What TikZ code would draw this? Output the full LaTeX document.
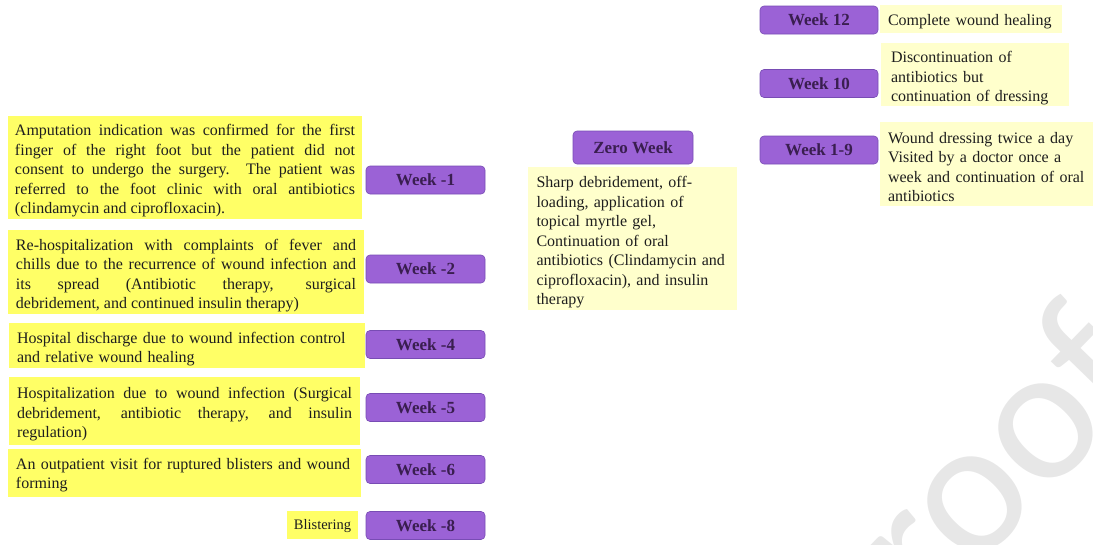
\documentclass[tikz,border=0pt]{standalone}
\usepackage{fontspec}
\setmainfont{Liberation Serif}
\newfontfamily\wmfont{Carlito}
\definecolor{wkpurple}{RGB}{155,98,214}
\definecolor{wkborder}{RGB}{120,76,180}
\definecolor{wktext}{RGB}{58,30,80}
\definecolor{ybright}{RGB}{255,255,102}
\definecolor{ypale}{RGB}{255,255,204}
\definecolor{bodytext}{RGB}{30,30,30}
\definecolor{wmgray}{RGB}{231,231,231}
\tikzset{
  wk/.style={rounded corners=4pt, fill=wkpurple, draw=wkborder, line width=0.6pt,
    minimum width=119pt, minimum height=28pt, inner sep=0pt, text=wktext,
    font=\bfseries\fontsize{17}{19}\selectfont},
  ytext/.style={inner ysep=0pt, text=bodytext, font=\fontsize{16}{19.5}\selectfont},
  ybox/.style={fill=ybright, inner sep=0pt},
  pbox/.style={fill=ypale, inner sep=0pt},
}
\begin{document}
\begin{tikzpicture}[x=1pt,y=-1pt]
\useasboundingbox (0,0) rectangle (1093,544);
\begin{scope}
\clip (0,0) rectangle (1093,544);
\node[rotate=45.8, anchor=base east, text=wmgray, inner sep=0pt,
  font=\wmfont\fontsize{193}{193}\selectfont] (wm) at (1156,384) {proof};
\end{scope}

% left column
\node[ybox, minimum width=354pt, minimum height=103pt] (b1) at (185,167.5) {};
\node[ytext, text width=340pt, align=justify] (t1) at ([yshift=-3.5pt]b1.center)
 {Amputation indication was confirmed for the first\linebreak finger of the right foot but the patient did not\linebreak consent to undergo the surgery. The patient was\linebreak referred to the foot clinic with oral antibiotics\linebreak (clindamycin and ciprofloxacin).};
\node[ybox, minimum width=356pt, minimum height=84pt] (b2) at (186,272) {};
\node[ytext, text width=340pt, align=justify] (t2) at ([yshift=-3.5pt]b2.center)
 {Re-hospitalization with complaints of fever and\linebreak chills due to the recurrence of wound infection and\linebreak its spread (Antibiotic therapy, surgical\linebreak debridement, and continued insulin therapy)};
\node[ybox, minimum width=356pt, minimum height=45pt] (b4) at (187,345.5) {};
\node[ytext, text width=340pt, align=left] (t4) at ([yshift=-3.5pt]b4.center)
 {Hospital discharge due to wound infection control\\ and relative wound healing};
\node[ybox, minimum width=351pt, minimum height=68pt] (b5) at (184.5,411) {};
\node[ytext, text width=335pt, align=justify] (t5) at ([yshift=-3.5pt]b5.center)
 {Hospitalization due to wound infection (Surgical\linebreak debridement, antibiotic therapy, and insulin\linebreak regulation)};
\node[ybox, minimum width=353pt, minimum height=48pt] (b6) at (184.5,473) {};
\node[ytext, text width=337pt, align=left] (t6) at ([yshift=-2pt]b6.center)
 {An outpatient visit for ruptured blisters and wound\\ forming};
\node[ybox, minimum width=71pt, minimum height=28pt] (b8) at (322.5,525) {};
\node[ytext, font=\fontsize{14.5}{17}\selectfont, inner xsep=0pt] (t8) at ([yshift=-1pt]b8.center) {Blistering};

\node[wk] (w1) at (425.5,180) {Week -1};
\node[wk] (w2) at (425.5,269) {Week -2};
\node[wk] (w4) at (425.5,344.5) {Week -4};
\node[wk] (w5) at (425.5,407.5) {Week -5};
\node[wk] (w6) at (425.5,469.5) {Week -6};
\node[wk] (w8) at (425.5,525.5) {Week -8};

% centre
\node[wk, minimum width=120pt, minimum height=33pt] (w0) at (633,147.5) {Zero Week};
\node[pbox, minimum width=209pt, minimum height=143pt] (b0) at (632.5,238.5) {};
\node[ytext, text width=192pt, align=left] (t0) at ([yshift=-4pt]b0.center)
 {Sharp debridement, off-\\ loading, application of\\ topical myrtle gel,\\ Continuation of oral\\ antibiotics (Clindamycin and\\ ciprofloxacin), and insulin\\ therapy};

% right column
\node[wk, minimum width=118pt] (w12) at (819,20) {Week 12};
\node[wk, minimum width=118pt] (w10) at (819,83.5) {Week 10};
\node[wk, minimum width=118pt] (w19) at (819,150) {Week 1-9};
\node[pbox, minimum width=182pt, minimum height=28pt] (b12) at (971,19) {};
\node[ytext, text width=166pt, align=left] (t12) at ([yshift=-3pt]b12.center)
 {Complete wound healing};
\node[pbox, minimum width=188pt, minimum height=63pt] (b10) at (975,74.5) {};
\node[ytext, text width=168pt, align=left] (t10) at ([yshift=-4pt]b10.center)
 {Discontinuation of\\ antibiotics but\\ continuation of dressing};
\node[pbox, minimum width=213pt, minimum height=84pt] (b19) at (986.5,164) {};
\node[ytext, text width=197pt, align=left] (t19) at ([yshift=-3pt]b19.center)
 {Wound dressing twice a day\\ Visited by a doctor once a\\ week and continuation of oral\\ antibiotics};
\end{tikzpicture}
\end{document}
